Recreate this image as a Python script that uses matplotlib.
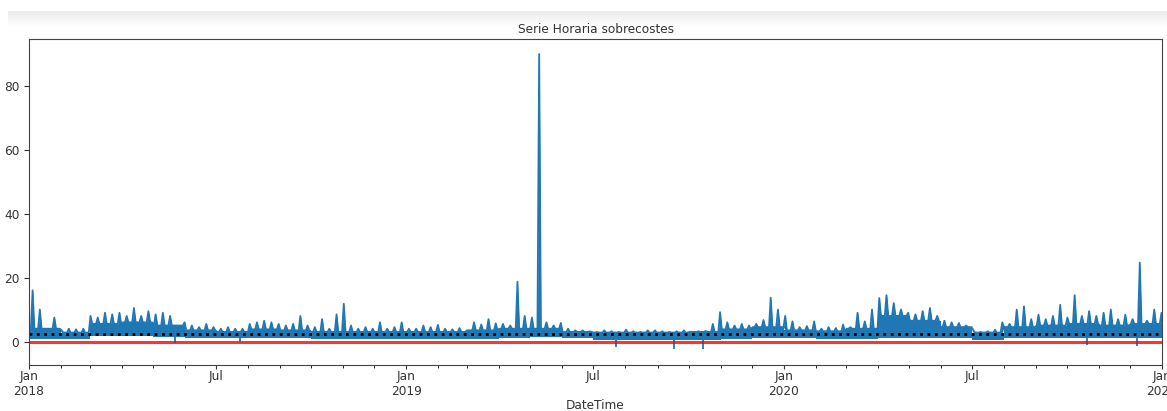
import numpy as np
import pandas as pd
import matplotlib
matplotlib.use('Agg')
import matplotlib.pyplot as plt
import matplotlib.dates as mdates

# weekly peaks of the hourly series (weeks starting 2018-01-01)
week_hi = [16, 10, 4, 7.5, 3.5, 4, 3.8, 4, 8, 7.5, 9, 8.5, 9, 8, 10.5, 8, 9.5, 8.5, 9, 8,
           5, 6, 5, 4.5, 5.5, 4.5, 4, 4.5, 4, 4, 5.5, 6, 6.5, 6, 5.5, 5, 5.5, 8, 5, 4.5,
           7, 4, 8.5, 11.8, 5, 4, 4.5, 4, 6, 4, 4.5, 6, 4,
           4, 5, 4.5, 5.2, 4, 3.8, 4.2, 3.5, 6, 5.3, 7, 5.7, 5.5, 5, 18.7, 8, 7.5, 90,
           6, 5, 5.8, 4, 3.5, 3.5, 3.2, 3, 3.5, 3.2, 3.0, 3.7, 3.2, 3, 3.5, 3.5, 3.2, 3.0,
           3.2, 3.5, 3.0, 3.2, 3.3, 5.5, 9.2, 6, 5, 5.5, 5, 5.5, 6.7, 13.7, 10, 8,
           6.3, 4.5, 4.8, 6.3, 4, 4.5, 4.2, 5.3, 4.5, 9, 6.3, 10, 13.6, 14.5, 12, 10, 9,
           8.5, 9.5, 10.5, 8, 6.5, 6, 5.8, 5, 3.5, 3, 3.2, 3.7, 6, 5.5, 10, 11, 7, 8.4,
           7, 8, 11.5, 7.5, 14.5, 8, 9.5, 8, 9, 10, 7, 8.4, 7, 24.7, 6.5, 10, 9]

# weekly lows (dips below zero included)
week_lo = [0.5, 0.4, 0.3, 0.3, 0.3, 0.3, 0.3, 0.4, 1.0, 1.2, 0.8, 1.2, 1.0, 0.6, 1.2, 0.8, 1.0, 0.8, 1.2, 0.2,
           -0.6, 0.2, 0.3, 0.3, 0.3, 0.2, 0.3, 0.3, 0.2, -0.3, 0.3, 0.3, 0.2, 0.3, 0.3, 0.3, 0.3, 0.2, 0.3, 0.3,
           0.3, 0.3, 0.2, 0.3, 0.3, 0.3, 0.2, 0.3, 0.3, 0.3, 0.2, 0.3, 0.3,
           0.3, 0.3, 0.2, 0.3, 0.3, 0.3, 0.3, 0.2, 0.3, 0.3, 0.3, 0.3, 0.3, 0.3, 0.5, 1.0, 0.8, 0.6,
           0.3, 0.3, 0.3, 0.2, 0.2, 0.3, 0.2, 0.2, 0.2, 0.2, -1.7, 0.2, 0.2, 0.2, 0.2, 0.2, 0.2, 0.2,
           -2.3, 0.2, 0.2, 0.2, -2.3, 0.3, 0.3, 0.3, 0.3, 0.3, 0.3, 0.3, 0.3, 0.4, 0.4, 0.3,
           0.3, 0.3, 0.3, 0.3, 0.3, 0.3, 0.3, 0.3, 0.3, 0.3, 0.3, 0.4, 0.5, 0.6, 0.5, 0.5, 0.5,
           0.5, 0.5, 0.5, 0.4, 0.4, 0.3, 0.3, 0.3, 0.2, 0.0, 0.1, 0.2, 0.3, 0.3, 0.3, 0.3, 0.3, 0.3,
           0.3, 0.3, 0.3, 0.3, 0.3, 0.3, -1.0, 0.3, 0.3, 0.3, 0.3, 0.3, 0.3, -1.5, 0.3, 0.3, 0.3]

# monthly bottom / top of the dense part of the band
month_base = [0.8, 0.8, 1.6, 1.8, 1.5, 1.0, 1.0, 1.0, 1.0, 0.9, 0.8, 0.8,
              0.8, 0.8, 0.9, 1.0, 1.5, 1.0, 0.6, 0.6, 0.6, 0.6, 0.8, 1.0,
              1.0, 0.8, 0.8, 1.2, 1.2, 1.0, 0.5, 1.0, 1.0, 1.0, 1.0, 1.0]
month_core = [4.0, 2.8, 5.5, 6.0, 5.0, 3.5, 3.0, 3.8, 3.5, 3.0, 3.0, 3.0,
              3.0, 3.0, 3.5, 4.0, 4.0, 3.0, 2.8, 2.8, 2.8, 3.0, 3.8, 4.5,
              3.5, 3.2, 4.0, 8.0, 6.5, 4.5, 2.8, 4.5, 5.0, 5.5, 5.0, 5.5]

mean_level = 2.3

weeks = pd.date_range('2018-01-01', periods=len(week_hi), freq='7D')
months = pd.date_range('2018-01-01', periods=len(month_core), freq='MS')
end = pd.Timestamp('2021-01-01')
blue = '#1f77b4'


def month_idx(d):
    return min((d.year - 2018) * 12 + d.month - 1, len(month_core) - 1)


# peaks rising out of the dense band, one per week
t, v, base = [], [], []
for d, hi in zip(weeks, week_hi):
    mid = d + pd.Timedelta(hours=84)
    for x, y in [(d, None), (mid - pd.Timedelta(hours=40), None), (mid, hi),
                 (mid + pd.Timedelta(hours=40), None)]:
        c = month_core[month_idx(x)]
        t.append(x)
        v.append(c if y is None else y)
        base.append(c)

fs = 8.7
fig = plt.figure(figsize=(11.67, 4.11), dpi=100)

# light grey strip across the top
band = fig.add_axes([0.007, 1 - 27 / 411, 0.993, 16 / 411])
band.imshow(np.linspace(0.92, 1.0, 50).reshape(-1, 1), cmap='gray', vmin=0, vmax=1,
            aspect='auto', extent=[0, 1, 0, 1])
band.axis('off')

ax = fig.add_axes([29 / 1167, 1 - 364.5 / 411, 1133 / 1167, 325.5 / 411])

mt = list(months) + [end]
ax.fill_between(mt, month_base + [month_base[-1]], month_core + [month_core[-1]],
                step='post', color=blue, lw=0)
ax.fill_between(t, base, v, color=blue, lw=0)
ax.plot(t, v, color=blue, lw=1.3)

# dips below zero
dips = [(d + pd.Timedelta(hours=30), lo) for d, lo in zip(weeks, week_lo) if lo < 0]
ax.vlines([d for d, _ in dips], [lo for _, lo in dips],
          [month_base[month_idx(d)] + 0.3 for d, _ in dips], color=blue, lw=1.3)

ax.axhline(0, color='red', lw=2.2, alpha=0.8)
ax.axhline(mean_level, color='black', lw=2, ls=':')

ax.set_xlim(pd.Timestamp('2018-01-01'), end)
ax.set_ylim(-7.2, 94.7)
ax.set_yticks([0, 20, 40, 60, 80])

ax.xaxis.set_major_locator(mdates.MonthLocator(bymonth=[1, 7]))
ax.xaxis.set_minor_locator(mdates.MonthLocator())


def fmt(x, pos=None):
    d = mdates.num2date(x)
    if d.month == 1:
        return 'Jan\n%d' % d.year
    return 'Jul'


ax.xaxis.set_major_formatter(plt.FuncFormatter(fmt))
ax.tick_params(labelsize=fs, colors='#333333')
ax.tick_params(axis='x', which='major', length=3, pad=1)
ax.tick_params(axis='x', which='minor', length=2)
for lab in ax.get_xticklabels():
    lab.set_linespacing(1.15)
for s in ax.spines.values():
    s.set_color('#444444')

ax.set_title('Serie Horaria sobrecostes', fontsize=fs, color='#333333', pad=4)
ax.set_xlabel('DateTime', fontsize=fs, color='#333333', labelpad=1)

fig.savefig('out.png', dpi=100)
